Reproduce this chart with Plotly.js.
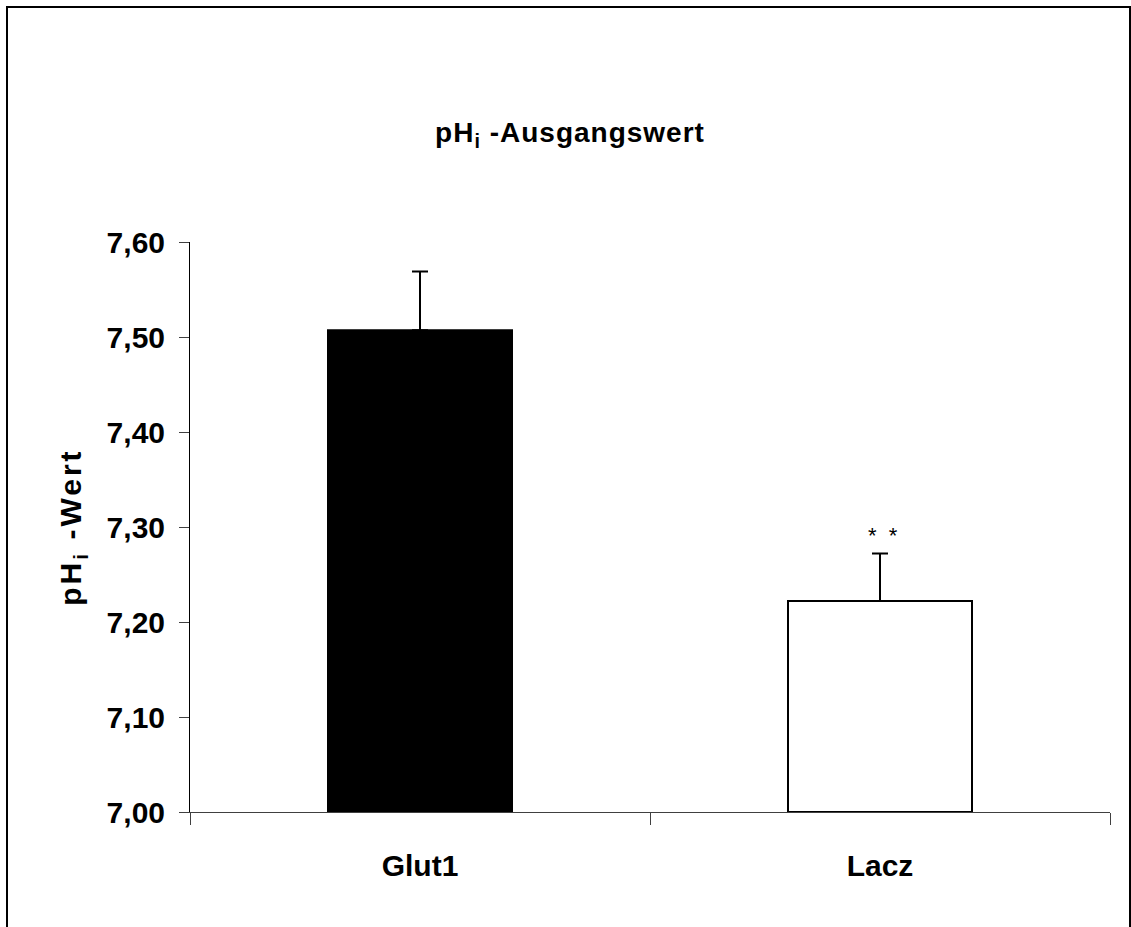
<!DOCTYPE html>
<html>
<head>
<meta charset="utf-8">
<script src="https://cdn.plot.ly/plotly-3.0.1.min.js"></script>
<style>
html, body { margin: 0; padding: 0; background: #fff; }
#chart { width: 1131px; height: 927px; }
#chart .gtitle { letter-spacing: 1px; }
#chart .annotation.ytitle-ann text { letter-spacing: 3px; }
</style>
</head>
<body>
<div id="chart"></div>
<script>
// Data
const categories = ['Glut1', 'Lacz'];
const values = [7.507, 7.222];
const errors = [0.062, 0.050];
const significance = ['', '*\u00a0\u00a0*'];
const yTicks = [7.0, 7.1, 7.2, 7.3, 7.4, 7.5, 7.6];

const FONT = 'Liberation Sans, Arial, sans-serif';

const trace = {
  type: 'bar',
  x: categories,
  y: values.map(v => v - 7.0),
  base: 7.0,
  width: 0.4,
  marker: {
    color: ['#000000', '#ffffff'],
    line: { color: '#000000', width: 2 }
  },
  error_y: {
    type: 'data',
    symmetric: false,
    array: errors,
    arrayminus: errors.map(() => 0),
    color: '#000000',
    thickness: 2,
    width: 8
  },
  hoverinfo: 'none'
};

const annotations = [];
categories.forEach((c, i) => {
  if (significance[i]) {
    annotations.push({
      x: c, y: values[i] + errors[i], xref: 'x', yref: 'y',
      text: significance[i], showarrow: false,
      yanchor: 'bottom', yshift: 4, xshift: 3,
      font: { family: FONT, size: 22, color: '#000' }
    });
  }
});
annotations.push({
  xref: 'paper', yref: 'paper', x: -0.128, y: 0.5,
  text: '<b>pH<sub>i</sub> -Wert</b>', textangle: -90, showarrow: false,
  xanchor: 'center', yanchor: 'middle',
  font: { family: FONT, size: 30, color: '#000' }
});

const L = 190, R = 21, T = 242, B = 115;
const W = 1131 - L - R, H = 927 - T - B;
const px = x => (x - L) / W;
const py = y => (927 - B - y) / H;

const layout = {
  width: 1131, height: 927,
  margin: { l: L, r: R, t: T, b: B, pad: 0 },
  paper_bgcolor: '#ffffff', plot_bgcolor: '#ffffff',
  separators: ', ',
  showlegend: false,
  title: {
    text: '<b>pH<sub>i</sub> -Ausgangswert</b>',
    font: { family: FONT, size: 28, color: '#000' },
    xref: 'paper', x: px(570), xanchor: 'center',
    yref: 'container', y: 1 - 132 / 927, yanchor: 'middle'
  },
  xaxis: {
    type: 'category',
    range: [-0.5, 1.5],
    showline: true, linecolor: '#404040', linewidth: 1,
    ticks: 'outside', tickson: 'boundaries', ticklen: 12, tickcolor: '#404040', tickwidth: 1,
    tickfont: { family: FONT, size: 30, color: '#000' },
    tickprefix: '<b>', ticksuffix: '</b>',
    ticklabelstandoff: 27,
    showgrid: false, zeroline: false, fixedrange: true
  },
  yaxis: {
    range: [7.0, 7.6],
    tickmode: 'array', tickvals: yTicks,
    ticktext: yTicks.map(v => '<b>' + v.toFixed(2).replace('.', ',') + '</b>'),
    showline: true, linecolor: '#000000', linewidth: 1,
    ticks: 'outside', ticklen: 10, tickcolor: '#404040', tickwidth: 1,
    tickfont: { family: FONT, size: 30, color: '#000' },
    ticklabelstandoff: 8,
    showgrid: false, zeroline: false, fixedrange: true
  },
  annotations: annotations,
  shapes: [{
    type: 'rect', xref: 'paper', yref: 'paper',
    x0: px(7), x1: px(1130), y0: py(7), y1: py(960),
    line: { color: '#000', width: 2 }, fillcolor: 'rgba(0,0,0,0)', layer: 'above'
  }]
};

Plotly.newPlot('chart', [trace], layout, { staticPlot: true, displayModeBar: false }).then(gd => {
  const anns = gd.querySelectorAll('.annotation');
  if (anns.length) anns[anns.length - 1].classList.add('ytitle-ann');
});
</script>
</body>
</html>
